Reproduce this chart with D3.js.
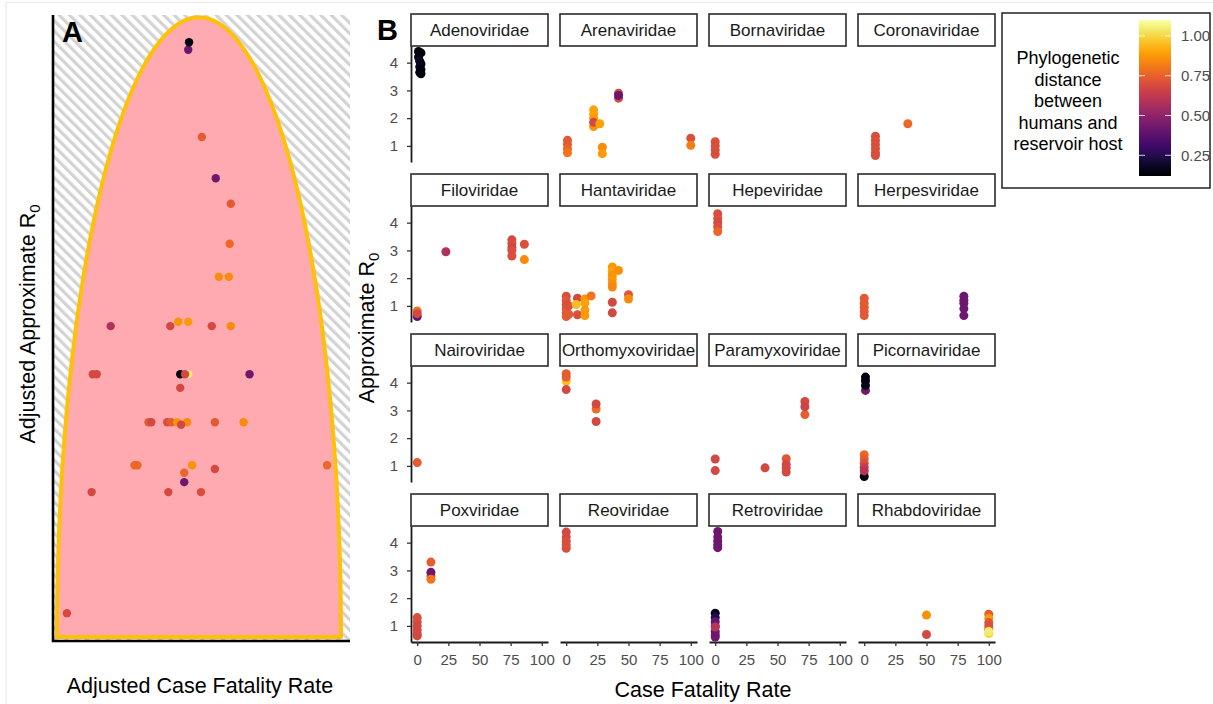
<!DOCTYPE html>
<html lang="en">
<head>
<meta charset="UTF-8">
<title>Adjusted R0 and case fatality by viral family</title>
<script src="https://cdn.jsdelivr.net/npm/d3@7"></script>
<style>
    body { margin: 0; background: #fff; }
    text { font-family: "Liberation Sans", Arial, Helvetica, sans-serif; }
    .tick-label { fill: #4d4d4d; font-size: 15px; }
    .strip-text { fill: #1a1a1a; font-size: 17px; }
    .axis-title { fill: #000; font-size: 21.5px; }
    .legend-title { fill: #000; font-size: 18px; }
    .panel-tag { fill: #000; font-size: 29px; font-weight: bold; }
</style>
</head>
<body>
<div id="chart"></div>
<script>
    // facet order (left to right, top to bottom)
    const families = [
        "Adenoviridae", "Arenaviridae", "Bornaviridae", "Coronaviridae",
        "Filoviridae", "Hantaviridae", "Hepeviridae", "Herpesviridae",
        "Nairoviridae", "Orthomyxoviridae", "Paramyxoviridae", "Picornaviridae",
        "Poxviridae", "Reoviridae", "Retroviridae", "Rhabdoviridae"
    ];
    const yTicksB = [1, 2, 3, 4];
    const xTicksB = [0, 25, 50, 75, 100];
    const legendTicks = [0.25, 0.50, 0.75, 1.00];
    const legendTitle = ["Phylogenetic", "distance", "between", "humans and", "reservoir host"];

    // panel A: [adjusted CFR, adjusted R0, phylogenetic distance] (unitless, 0-1)
    const pointsA = [
        [.035, .043, .68], [.122, .237, .68], [.392, .237, .68], [.507, .237, .70],
        [.448, .253, .42], [.448, .268, .76], [.556, .274, .68],
        [.273, .280, .77], [.283, .280, .77], [.476, .280, .87], [.951, .280, .77],
        [.322, .349, .74], [.332, .349, .68], [.388, .349, .70], [.402, .349, .74],
        [.423, .349, .87], [.458, .349, .85], [.437, .345, .68], [.556, .349, .73], [.657, .349, .85],
        [.434, .404, .68],
        [.126, .426, .68], [.140, .426, .68], [.462, .426, 1.05], [.434, .426, .15],
        [.451, .426, .68], [.678, .426, .42],
        [.189, .503, .58], [.399, .503, .68], [.427, .510, .87], [.462, .510, .88],
        [.545, .503, .68], [.612, .503, .85],
        [.570, .582, .85], [.605, .582, .85],
        [.608, .635, .77], [.612, .699, .73], [.559, .740, .42], [.510, .806, .74],
        [.462, .946, .41], [.465, .958, .15]
    ];

    // panel B: [family, case fatality rate, approximate R0, phylogenetic distance]
    const pointsB = [
        ["Adenoviridae", 1, 4.4, .15], ["Adenoviridae", 3, 4.35, .14], ["Adenoviridae", 1, 4.2, .16],
        ["Adenoviridae", 2, 4.05, .18], ["Adenoviridae", 3, 3.95, .15], ["Adenoviridae", 2, 3.85, .17],
        ["Adenoviridae", 3, 3.75, .15], ["Adenoviridae", 2, 3.65, .14], ["Adenoviridae", 3, 3.6, .15],

        ["Arenaviridae", 1, 1.2, .73], ["Arenaviridae", 1, 1.05, .73], ["Arenaviridae", 1, 0.9, .76],
        ["Arenaviridae", 1, 0.75, .8], ["Arenaviridae", 22, 2.3, .9], ["Arenaviridae", 22, 2.15, .9],
        ["Arenaviridae", 22, 2.0, .88], ["Arenaviridae", 22, 1.7, .87], ["Arenaviridae", 22, 1.85, .68],
        ["Arenaviridae", 27, 1.8, .9], ["Arenaviridae", 29, 0.95, .85], ["Arenaviridae", 29, 0.72, .88],
        ["Arenaviridae", 42, 2.9, .68], ["Arenaviridae", 42, 2.72, .68], ["Arenaviridae", 42, 2.82, .41],
        ["Arenaviridae", 100, 1.28, .7], ["Arenaviridae", 100, 1.02, .82],

        ["Bornaviridae", 0, 1.15, .7], ["Bornaviridae", 0, 1.0, .7], ["Bornaviridae", 0, 0.85, .7],
        ["Bornaviridae", 0, 0.7, .7],

        ["Coronaviridae", 9, 1.35, .7], ["Coronaviridae", 9, 1.2, .7], ["Coronaviridae", 9, 1.05, .7],
        ["Coronaviridae", 9, 0.9, .7], ["Coronaviridae", 9, 0.75, .7], ["Coronaviridae", 9, 0.65, .7],
        ["Coronaviridae", 35, 1.8, .77],

        ["Filoviridae", 0, 0.62, .4], ["Filoviridae", 0, 0.82, .8], ["Filoviridae", 0, 0.72, .68],
        ["Filoviridae", 23, 2.95, .58], ["Filoviridae", 76, 3.38, .68], ["Filoviridae", 76, 3.25, .7],
        ["Filoviridae", 76, 3.1, .66], ["Filoviridae", 76, 3.0, .7], ["Filoviridae", 76, 2.8, .7],
        ["Filoviridae", 86, 3.22, .7], ["Filoviridae", 86, 2.67, .85],

        ["Hantaviridae", 0, 1.35, .7], ["Hantaviridae", 0, 1.2, .72], ["Hantaviridae", 0, 1.05, .7],
        ["Hantaviridae", 0, 0.9, .72], ["Hantaviridae", 0, 0.75, .74], ["Hantaviridae", 0, 0.62, .74],
        ["Hantaviridae", 2, 1.0, .7], ["Hantaviridae", 2, 0.7, .73],
        ["Hantaviridae", 9, 1.28, .68], ["Hantaviridae", 9, 0.68, .7], ["Hantaviridae", 8, 1.05, .95],
        ["Hantaviridae", 15, 1.25, .87], ["Hantaviridae", 15, 1.1, .9], ["Hantaviridae", 15, 0.85, .88],
        ["Hantaviridae", 15, 0.65, .88], ["Hantaviridae", 20, 1.36, .8],
        ["Hantaviridae", 37, 2.4, .88], ["Hantaviridae", 37, 2.25, .9], ["Hantaviridae", 37, 2.1, .87],
        ["Hantaviridae", 37, 1.95, .88], ["Hantaviridae", 37, 1.8, .86], ["Hantaviridae", 37, 1.68, .84],
        ["Hantaviridae", 37, 1.13, .68], ["Hantaviridae", 37, 0.75, .68], ["Hantaviridae", 42, 2.28, .86],
        ["Hantaviridae", 50, 1.4, .72], ["Hantaviridae", 50, 1.25, .85],

        ["Hepeviridae", 2, 4.32, .7], ["Hepeviridae", 2, 4.15, .7], ["Hepeviridae", 2, 4.0, .68],
        ["Hepeviridae", 2, 3.85, .7], ["Hepeviridae", 2, 3.68, .76],

        ["Herpesviridae", 0, 1.28, .73], ["Herpesviridae", 0, 1.1, .73], ["Herpesviridae", 0, 0.95, .73],
        ["Herpesviridae", 0, 0.8, .73], ["Herpesviridae", 0, 0.65, .73],
        ["Herpesviridae", 80, 1.35, .42], ["Herpesviridae", 80, 1.2, .42], ["Herpesviridae", 80, 1.1, .42],
        ["Herpesviridae", 80, 0.9, .42], ["Herpesviridae", 80, 0.65, .42],

        ["Nairoviridae", 0, 1.12, .74],

        ["Orthomyxoviridae", 0, 4.05, .95], ["Orthomyxoviridae", 0, 4.32, .74], ["Orthomyxoviridae", 0, 4.2, .74],
        ["Orthomyxoviridae", 0, 3.75, .68], ["Orthomyxoviridae", 24, 3.05, .78], ["Orthomyxoviridae", 24, 3.23, .68],
        ["Orthomyxoviridae", 24, 2.6, .68],

        ["Paramyxoviridae", 0, 1.25, .68], ["Paramyxoviridae", 0, 0.83, .68], ["Paramyxoviridae", 40, 0.93, .68],
        ["Paramyxoviridae", 57, 1.26, .72], ["Paramyxoviridae", 57, 1.05, .68], ["Paramyxoviridae", 57, 0.93, .68],
        ["Paramyxoviridae", 57, 0.78, .68], ["Paramyxoviridae", 72, 2.85, .74], ["Paramyxoviridae", 72, 3.32, .68],
        ["Paramyxoviridae", 72, 3.13, .66],

        ["Picornaviridae", 1, 4.2, .14], ["Picornaviridae", 1, 4.07, .15], ["Picornaviridae", 1, 3.72, .42],
        ["Picornaviridae", 1, 3.9, .16], ["Picornaviridae", 0, 0.72, 1.05], ["Picornaviridae", 0, 0.62, .14],
        ["Picornaviridae", 0, 1.4, .77], ["Picornaviridae", 0, 1.25, .74], ["Picornaviridae", 0, 1.1, .7],
        ["Picornaviridae", 0, 0.95, .64], ["Picornaviridae", 0, 0.82, .6],

        ["Poxviridae", 0, 1.3, .7], ["Poxviridae", 0, 1.15, .7], ["Poxviridae", 0, 1.0, .68],
        ["Poxviridae", 0, 0.85, .68], ["Poxviridae", 0, 0.72, .68], ["Poxviridae", 0, 0.64, .68],
        ["Poxviridae", 11, 3.3, .74], ["Poxviridae", 11, 2.8, .7], ["Poxviridae", 11, 2.93, .42],
        ["Poxviridae", 11, 2.68, .8],

        ["Reoviridae", 0, 4.38, .68], ["Reoviridae", 0, 4.2, .68], ["Reoviridae", 0, 4.05, .7],
        ["Reoviridae", 0, 3.92, .7], ["Reoviridae", 0, 3.8, .7],

        ["Retroviridae", 2, 4.4, .42], ["Retroviridae", 2, 4.2, .42], ["Retroviridae", 2, 4.05, .42],
        ["Retroviridae", 2, 3.92, .42], ["Retroviridae", 2, 3.82, .42],
        ["Retroviridae", 0, 1.46, .17], ["Retroviridae", 0, 1.3, .25], ["Retroviridae", 0, 1.15, .4],
        ["Retroviridae", 0, 1.0, .42], ["Retroviridae", 0, 0.8, .42], ["Retroviridae", 0, 0.68, .42],
        ["Retroviridae", 0, 0.6, .42], ["Retroviridae", 0, 0.96, .6],

        ["Rhabdoviridae", 50, 1.39, .86], ["Rhabdoviridae", 50, 0.69, .68],
        ["Rhabdoviridae", 100, 1.42, .74], ["Rhabdoviridae", 100, 1.28, .88], ["Rhabdoviridae", 100, 1.12, .72],
        ["Rhabdoviridae", 100, 1.0, .7], ["Rhabdoviridae", 100, 0.88, .72], ["Rhabdoviridae", 100, 0.72, 1.0],
        ["Rhabdoviridae", 100, 0.8, 1.05]
    ];

    const width = 1213;
    const height = 704;

    const svg = d3.select("#chart").append("svg")
        .attr("width", width)
        .attr("height", height);

    // faint frame of the original figure
    svg.append("path")
        .attr("d", "M6,704V2.5H1213")
        .attr("fill", "none")
        .attr("stroke", "#e9e9e9")
        .attr("stroke-width", 1.2);

    const color = d3.scaleSequential(d3.interpolateInferno).domain([0.12, 1.1]);

    drawPanelA();
    drawPanelB();
    drawLegend();

    function drawPanelA() {
        const x = d3.scaleLinear().domain([0, 1]).range([57, 341]);
        const y = d3.scaleLinear().domain([0, 1]).range([640, 16]);
        const left = 53, right = 350, top = 15, bottom = 641;

        const defs = svg.append("defs");
        defs.append("pattern")
            .attr("id", "hatch")
            .attr("patternUnits", "userSpaceOnUse")
            .attr("width", 7.4)
            .attr("height", 7.4)
            .attr("patternTransform", "rotate(-45)")
            .append("rect")
            .attr("width", 3.2)
            .attr("height", 7.4)
            .attr("fill", "#d3d3d3");

        svg.append("rect")
            .attr("x", left).attr("y", top)
            .attr("width", right - left).attr("height", bottom - top)
            .attr("fill", "url(#hatch)");

        // feasible region: half ellipse resting on the x axis
        const angles = d3.range(0, 181, 2).map(a => a * Math.PI / 180);
        const envelope = d3.line()
            .x(t => x(0.5 + 0.5 * Math.cos(t)))
            .y(t => y(0.005 + 0.993 * Math.sin(t)));
        svg.append("path")
            .attr("d", envelope(angles) + "Z")
            .attr("fill", "#ffaab0")
            .attr("stroke", "#ffc107")
            .attr("stroke-width", 4)
            .attr("stroke-linejoin", "round");

        svg.append("g").selectAll("circle")
            .data(pointsA)
            .join("circle")
            .attr("cx", d => x(d[0]))
            .attr("cy", d => y(d[1]))
            .attr("r", 4.2)
            .attr("fill", d => color(d[2]));

        svg.append("path")
            .attr("d", `M${left},${top}V${bottom}H${right}`)
            .attr("fill", "none")
            .attr("stroke", "#000")
            .attr("stroke-width", 2.6);

        svg.append("text").attr("class", "panel-tag")
            .attr("x", 62).attr("y", 42).text("A");

        svg.append("text").attr("class", "axis-title")
            .attr("x", 200).attr("y", 693)
            .attr("text-anchor", "middle")
            .text("Adjusted Case Fatality Rate");

        const yt = svg.append("text").attr("class", "axis-title")
            .attr("transform", "translate(35,324) rotate(-90)")
            .attr("text-anchor", "middle");
        yt.append("tspan").text("Adjusted Approximate R");
        yt.append("tspan").attr("font-size", "15px").attr("dy", 5).text("0");
    }

    function drawPanelB() {
        const colX0 = 411, colStep = 149, panelW = 137;
        const rowY0 = 14, rowStep = 160, stripH = 32, panelH = 116;

        const x = d3.scaleLinear().domain([-5, 105]).range([0, panelW]);
        const y = d3.scaleLinear().domain([0.42, 4.6]).range([panelH, 0]);

        svg.append("text").attr("class", "panel-tag")
            .attr("x", 377).attr("y", 40).text("B");

        families.forEach((fam, i) => {
            const col = i % 4, row = Math.floor(i / 4);
            const g = svg.append("g")
                .attr("transform", `translate(${colX0 + col * colStep},${rowY0 + row * rowStep})`);

            g.append("rect")
                .attr("x", 0).attr("y", 0)
                .attr("width", panelW).attr("height", stripH)
                .attr("fill", "#fff")
                .attr("stroke", "#2b2b2b")
                .attr("stroke-width", 1.6);
            g.append("text").attr("class", "strip-text")
                .attr("x", panelW / 2).attr("y", stripH / 2 + 6)
                .attr("text-anchor", "middle")
                .text(fam);

            const p = g.append("g").attr("transform", `translate(0,${stripH})`);

            p.append("g").selectAll("circle")
                .data(pointsB.filter(d => d[0] === fam))
                .join("circle")
                .attr("cx", d => x(d[1]))
                .attr("cy", d => y(d[2]))
                .attr("r", 4.5)
                .attr("fill", d => color(d[3]));

            if (col === 0) {
                const ax = p.append("g")
                    .call(d3.axisLeft(y).tickValues(yTicksB).tickFormat(d3.format("d"))
                        .tickSize(4).tickSizeOuter(0).tickPadding(9));
                styleAxis(ax);
            }
            if (row === 3) {
                const ax = p.append("g")
                    .attr("transform", `translate(0,${panelH})`)
                    .call(d3.axisBottom(x).tickValues(xTicksB).tickFormat(d3.format("d"))
                        .tickSize(4).tickSizeOuter(0).tickPadding(8));
                styleAxis(ax);
            }
        });

        svg.append("text").attr("class", "axis-title")
            .attr("x", 703).attr("y", 697)
            .attr("text-anchor", "middle")
            .text("Case Fatality Rate");

        const yt = svg.append("text").attr("class", "axis-title")
            .attr("transform", "translate(374,328) rotate(-90)")
            .attr("text-anchor", "middle");
        yt.append("tspan").text("Approximate R");
        yt.append("tspan").attr("font-size", "15px").attr("dy", 5).text("0");
    }

    function styleAxis(ax) {
        ax.attr("font-size", null).attr("font-family", null);
        ax.select(".domain").attr("stroke", "#1a1a1a").attr("stroke-width", 1.8);
        ax.selectAll(".tick line").attr("stroke", "#333").attr("stroke-width", 1.3);
        ax.selectAll(".tick text").attr("class", "tick-label").attr("fill", null);
    }

    function drawLegend() {
        const barX = 1139, barW = 32;
        const ly = d3.scaleLinear().domain(color.domain()).range([176, 20]);

        svg.append("rect")
            .attr("x", 1002).attr("y", 13)
            .attr("width", 208).attr("height", 175)
            .attr("fill", "#fff")
            .attr("stroke", "#222")
            .attr("stroke-width", 1.5);

        const grad = svg.select("defs").append("linearGradient")
            .attr("id", "inferno")
            .attr("x1", 0).attr("y1", 1).attr("x2", 0).attr("y2", 0);
        d3.range(0, 1.0001, 0.05).forEach(t => {
            grad.append("stop")
                .attr("offset", t)
                .attr("stop-color", d3.interpolateInferno(t));
        });

        svg.append("rect")
            .attr("x", barX).attr("y", ly.range()[1])
            .attr("width", barW).attr("height", ly.range()[0] - ly.range()[1])
            .attr("fill", "url(#inferno)");

        const ticks = svg.append("g").selectAll("g")
            .data(legendTicks)
            .join("g")
            .attr("transform", d => `translate(0,${ly(d)})`);
        ticks.append("line")
            .attr("x1", barX).attr("x2", barX + 6)
            .attr("stroke", "#fff").attr("stroke-opacity", 0.8);
        ticks.append("line")
            .attr("x1", barX + barW - 6).attr("x2", barX + barW)
            .attr("stroke", "#fff").attr("stroke-opacity", 0.8);
        ticks.append("text")
            .attr("class", "tick-label")
            .attr("x", 1181).attr("dy", "0.36em")
            .text(d => d.toFixed(2));

        svg.append("text").attr("class", "legend-title")
            .attr("text-anchor", "middle")
            .selectAll("tspan")
            .data(legendTitle)
            .join("tspan")
            .attr("x", 1068)
            .attr("y", (d, i) => 64 + i * 21.5)
            .text(d => d);
    }
</script>
</body>
</html>
